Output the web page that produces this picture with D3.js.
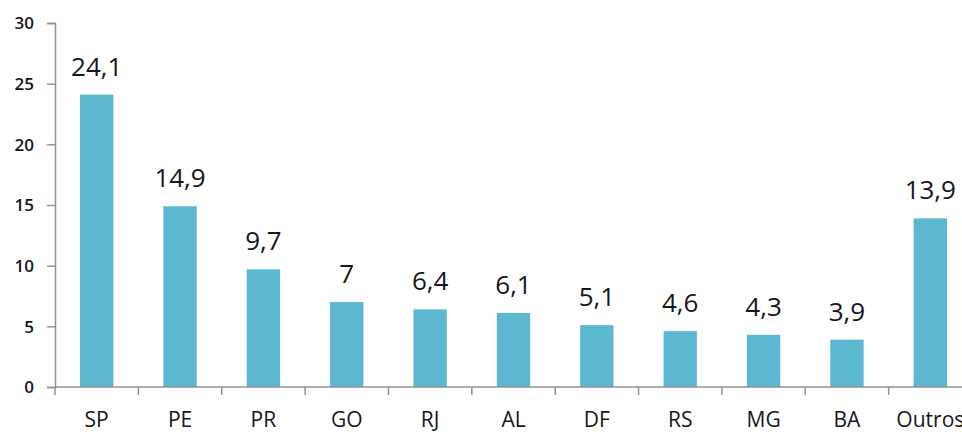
<!DOCTYPE html>
<html>
<head>
<meta charset="utf-8">
<script src="https://cdn.jsdelivr.net/npm/d3@7"></script>
<style>
  body { margin: 0; background: #fff; }
  svg text { font-family: "Open Sans", sans-serif; fill: #16161e; }
</style>
</head>
<body>
<svg id="drawing" width="962" height="432"></svg>
<script>
const categories = ["SP", "PE", "PR", "GO", "RJ", "AL", "DF", "RS", "MG", "BA", "Outros"];
const values = [24.1, 14.9, 9.7, 7, 6.4, 6.1, 5.1, 4.6, 4.3, 3.9, 13.9];
const yTicks = [0, 5, 10, 15, 20, 25, 30];

const svg = d3.select("svg#drawing");
const plotLeft = 55, plotRight = 972, plotTop = 23, plotBottom = 387;

const x = d3.scaleBand().domain(categories).range([plotLeft, plotRight]).paddingInner(0.6).paddingOuter(0.3);
const y = d3.scaleLinear().domain([0, 30]).range([plotBottom, plotTop]);
const step = (plotRight - plotLeft) / categories.length;

// bars
svg.selectAll(".bar")
  .data(categories)
  .enter().append("rect")
    .attr("class", "bar")
    .attr("fill", "#5bb8d0")
    .attr("x", d => x(d))
    .attr("width", x.bandwidth())
    .attr("y", (d, i) => y(values[i]))
    .attr("height", (d, i) => plotBottom - y(values[i]));

// value labels
const fmt = v => String(v).replace(".", ",");
svg.selectAll(".val")
  .data(categories)
  .enter().append("text")
    .attr("class", "val")
    .attr("text-anchor", "middle")
    .attr("font-size", 26)
    .attr("font-weight", 500)
    .attr("x", d => x(d) + x.bandwidth() / 2)
    .attr("y", (d, i) => y(values[i]) - 19)
    .text((d, i) => fmt(values[i]));

// y axis
const yAxis = svg.append("g")
  .attr("transform", `translate(${plotLeft},0)`)
  .call(d3.axisLeft(y).tickValues(yTicks).tickSize(8).tickPadding(13));
yAxis.select(".domain").attr("stroke", "#929292").attr("stroke-width", 1.5);
yAxis.selectAll(".tick line").attr("stroke", "#929292").attr("stroke-width", 1.5);
yAxis.selectAll(".tick text").attr("font-size", 17).attr("font-weight", 600).attr("font-family", "Open Sans").attr("dy", "0.35em");

// x axis
const xAxis = svg.append("g").attr("transform", `translate(0,${plotBottom})`);
xAxis.append("line")
  .attr("x1", plotLeft).attr("x2", plotRight)
  .attr("stroke", "#929292").attr("stroke-width", 1.5);
xAxis.selectAll(".xt")
  .data(d3.range(categories.length + 1))
  .enter().append("line")
    .attr("x1", i => plotLeft + i * step).attr("x2", i => plotLeft + i * step)
    .attr("y1", 0).attr("y2", 8)
    .attr("stroke", "#929292").attr("stroke-width", 1.5);
xAxis.selectAll(".xl")
  .data(categories)
  .enter().append("text")
    .attr("text-anchor", "middle")
    .attr("font-size", 21)
    .attr("x", d => x(d) + x.bandwidth() / 2)
    .attr("y", 40)
    .text(d => d);
</script>
</body>
</html>
